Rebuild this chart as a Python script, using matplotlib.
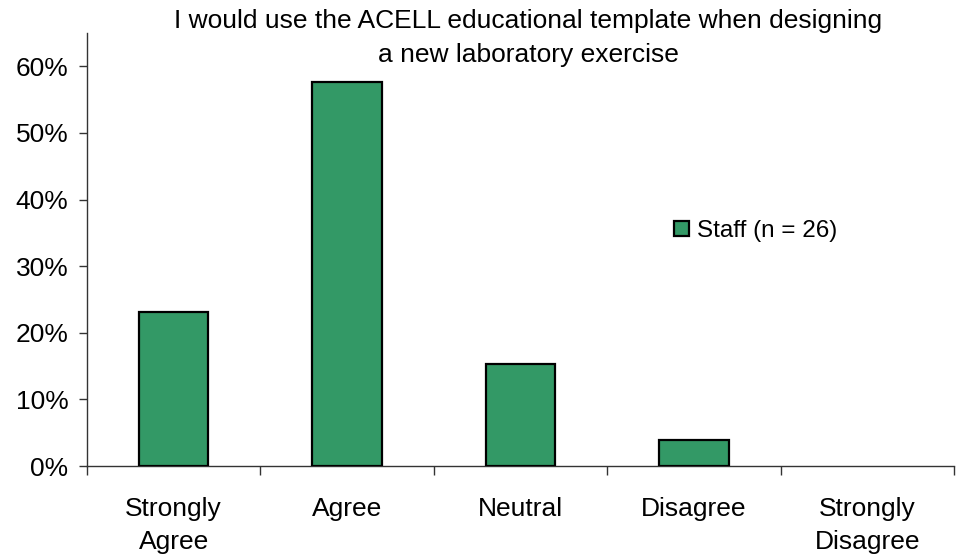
import matplotlib
matplotlib.use("Agg")
import matplotlib.pyplot as plt
from matplotlib.ticker import FuncFormatter, FixedLocator

plt.rcParams['font.family'] = ['Liberation Sans', 'DejaVu Sans']

categories = ["Strongly\nAgree", "Agree", "Neutral", "Disagree", "Strongly\nDisagree"]
staff_counts = [6, 15, 4, 1, 0]
n_staff = 26
staff_pct = [c / n_staff for c in staff_counts]

FS = 19

fig = plt.figure(figsize=(9.63, 5.55), dpi=100)
ax = fig.add_axes([87 / 963, 1 - 466 / 555, (954 - 87) / 963, (466 - 33) / 555])

x = list(range(len(categories)))
bars = ax.bar(x, staff_pct, width=0.4, color="#339966", edgecolor="black", linewidth=1.6,
              label=f"Staff (n = {n_staff})", zorder=3)
# empty categories get no visible outline
for b, v in zip(bars, staff_pct):
    if v == 0:
        b.set_linewidth(0)

ax.set_xlim(-0.5, len(categories) - 0.5)
ax.set_ylim(0, 0.65)
ax.set_yticks([0, 0.1, 0.2, 0.3, 0.4, 0.5, 0.6])
ax.yaxis.set_major_formatter(FuncFormatter(lambda v, p: f"{v * 100:.0f}%"))

# category labels centred under bars, tick marks between categories
ax.set_xticks(x)
ax.set_xticklabels(categories, fontsize=FS, linespacing=1.5)
ax.tick_params(axis='x', length=0, pad=22)
ax.xaxis.set_minor_locator(FixedLocator([i - 0.5 for i in range(len(categories) + 1)]))
ax.tick_params(axis='x', which='minor', length=6.5, direction='out', color='#333333', width=1)
ax.tick_params(axis='y', labelsize=FS, length=5.8, direction='out', color='#333333', width=1, pad=7.5)

for s in ('top', 'right'):
    ax.spines[s].set_visible(False)
for s in ('left', 'bottom'):
    ax.spines[s].set_color('#333333')
    ax.spines[s].set_linewidth(1)

fig.text(528 / 963, 1 - 38 / 555,
         "I would use the ACELL educational template when designing\na new laboratory exercise",
         ha='center', va='center', fontsize=FS, linespacing=1.5)

leg = ax.legend(loc='center left', bbox_to_anchor=((674 - 87) / 867, (466 - 231) / 433),
                frameon=False, fontsize=17.5, handlelength=0.6, handleheight=0.6, handletextpad=0.35,
                borderpad=0, borderaxespad=0)

fig.savefig("out.png", dpi=100)
